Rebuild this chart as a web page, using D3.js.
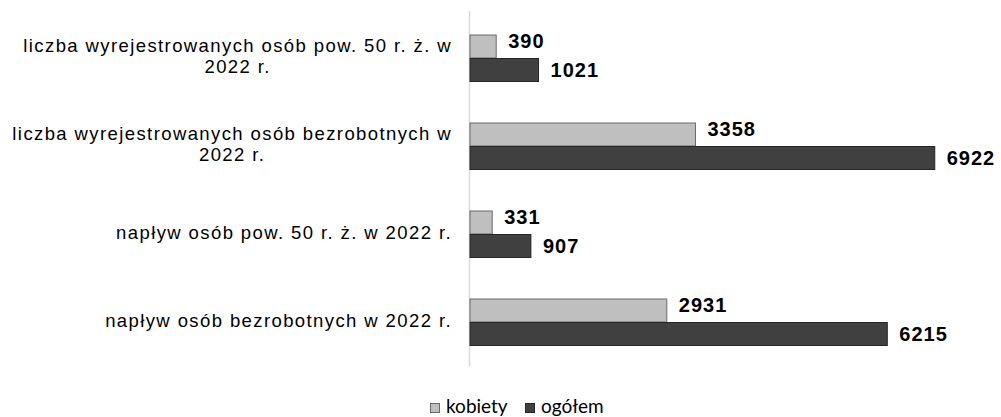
<!DOCTYPE html>
<html>
<head>
<meta charset="utf-8">
<script src="https://cdn.jsdelivr.net/npm/d3@7"></script>
<style>
  body { margin: 0; background: #fff; }
  .cat { font-family: "Liberation Sans", Arial, sans-serif; font-size: 18.5px; letter-spacing: 1.4px; fill: #000; }
  .val { font-family: "Liberation Sans", Arial, sans-serif; font-size: 20px; font-weight: bold; letter-spacing: 1px; fill: #000; }
  .leg { font-family: Lato, "Open Sans", sans-serif; font-size: 19px; fill: #000; }
</style>
</head>
<body>
<div id="chart"></div>
<script>
// chart data, top to bottom
const categories = [
  ["liczba wyrejestrowanych osób pow. 50 r. ż. w", "2022 r."],
  ["liczba wyrejestrowanych osób bezrobotnych w", "2022 r."],
  ["napływ osób pow. 50 r. ż. w 2022 r."],
  ["napływ osób bezrobotnych w 2022 r."]
];
const kobiety = [390, 3358, 331, 2931];
const ogolem = [1021, 6922, 907, 6215];
const seriesNames = ["kobiety", "ogółem"];

const width = 1001, height = 417;

let svg = d3.select("#chart").append("svg")
  .attr("width", width)
  .attr("height", height);

let rows = categories.map((c, i) => ({ key: i, lines: c, values: [kobiety[i], ogolem[i]] }));

let x = d3.scaleLinear().domain([0, 7000]).range([470, 940]);

let y = d3.scaleBand()
  .domain(rows.map(d => d.key))
  .range([14, 366])
  .paddingInner(0.466)
  .paddingOuter(0.233);

let ySub = d3.scaleBand()
  .domain(seriesNames)
  .range([0, y.bandwidth()]);

let fill = d3.scaleOrdinal().domain(seriesNames).range(["#bfbfbf", "#404040"]);
let stroke = d3.scaleOrdinal().domain(seriesNames).range(["#6b6b6b", "#262626"]);

// vertical category axis line
svg.append("line")
  .attr("x1", x(0) - 0.5).attr("x2", x(0) - 0.5)
  .attr("y1", 11).attr("y2", 366)
  .attr("stroke", "#d9d9d9")
  .attr("stroke-width", 1.5);

let group = svg.selectAll("g.row")
  .data(rows)
  .enter().append("g")
  .attr("class", "row")
  .attr("transform", d => "translate(0," + y(d.key) + ")");

group.selectAll("rect")
  .data(d => d.values.map((v, i) => ({ s: seriesNames[i], v: v })))
  .enter().append("rect")
  .attr("x", x(0))
  .attr("y", d => ySub(d.s) + 0.5)
  .attr("width", d => x(d.v) - x(0))
  .attr("height", ySub.bandwidth() - 0.5)
  .attr("fill", d => fill(d.s))
  .attr("stroke", d => stroke(d.s))
  .attr("stroke-width", 1);

group.selectAll("text.val")
  .data(d => d.values.map((v, i) => ({ s: seriesNames[i], v: v })))
  .enter().append("text")
  .attr("class", "val")
  .attr("x", d => x(d.v) + 12)
  .attr("y", d => ySub(d.s) + ySub.bandwidth() / 2 + (d.s === "kobiety" ? -4 : 2))
  .attr("dominant-baseline", "middle")
  .text(d => d.v);

// category labels: block right aligned, lines centred in block
let right = 452;
group.each(function (d) {
  let g = d3.select(this);
  let lh = 21;
  let cy = y.bandwidth() / 2;
  let t = g.append("g");
  let texts = d.lines.map((line, i) => t.append("text")
    .attr("class", "cat")
    .attr("y", cy + (i - (d.lines.length - 1) / 2) * lh)
    .attr("dominant-baseline", "middle")
    .attr("text-anchor", "middle")
    .text(line));
  let w = d3.max(texts, s => s.node().getComputedTextLength());
  texts.forEach(s => s.attr("x", right - w / 2));
});

// legend
let legend = svg.append("g").attr("class", "legend");
let legX = [430, 525];
seriesNames.forEach((s, i) => {
  legend.append("rect")
    .attr("x", legX[i] + 0.5).attr("y", 403.5)
    .attr("width", 9).attr("height", 9)
    .attr("fill", fill(s))
    .attr("stroke", stroke(s));
  legend.append("text")
    .attr("class", "leg")
    .attr("x", legX[i] + 16)
    .attr("y", 408)
    .attr("dominant-baseline", "middle")
    .text(s);
});
</script>
</body>
</html>
